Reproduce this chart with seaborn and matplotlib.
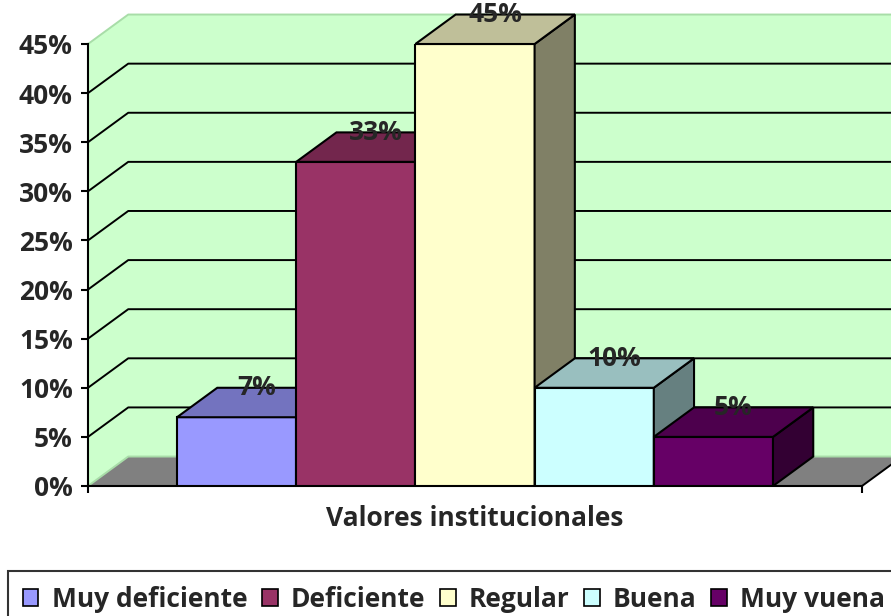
import matplotlib
matplotlib.use("Agg")
import matplotlib.pyplot as plt
import seaborn as sns
import pandas as pd
from matplotlib.patches import Polygon, Patch
from matplotlib.colors import to_rgb

# Data
categories = ["Muy deficiente", "Deficiente", "Regular", "Buena", "Muy vuena"]
values = [7, 33, 45, 10, 5]
group_label = "Valores institucionales"
y_ticks = [0, 5, 10, 15, 20, 25, 30, 35, 40, 45]
y_tick_labels = [f"{v}%" for v in y_ticks]

# Excel-like palette
bar_colors = ["#9999FF", "#993366", "#FFFFCC", "#CCFFFF", "#660066"]
WALL = "#CCFFCC"
FLOOR = "#808080"
WALL_EDGE = "#A8DDA8"

# 3D depth of the fake perspective (x in data units, y in percent)
DX = 0.052
DY = 3.0
X_FAR = 0.62

FONT_SIZE = 19


def shade(color, f):
    r, g, b = to_rgb(color)
    return (r * f, g * f, b * f)


sns.set_theme(style="white")
plt.rcParams["font.family"] = ["Open Sans", "DejaVu Sans"]
plt.rcParams["font.weight"] = "bold"

fig = plt.figure(figsize=(8.91, 6.16), dpi=100)
ax = fig.add_axes([88 / 891, 130 / 616, 774 / 891, 442 / 616])
ax.patch.set_visible(False)

df = pd.DataFrame({
    "grupo": [group_label] * len(categories),
    "categoria": categories,
    "valor": values,
})

sns.barplot(
    data=df, x="grupo", y="valor", hue="categoria",
    hue_order=categories, palette=bar_colors, width=0.77,
    saturation=1, edgecolor="black", linewidth=1.5,
    legend=False, ax=ax,
)

ax.set_xlim(-0.5, 0.5)
ax.set_ylim(0, y_ticks[-1])
x0, x1 = -0.5, 0.5
ytop = y_ticks[-1]

# walls and floor
back = Polygon([(x0 + DX, DY), (X_FAR, DY), (X_FAR, ytop + DY), (x0 + DX, ytop + DY)],
               closed=True, facecolor=WALL, edgecolor="none", zorder=0.5, clip_on=False)
side = Polygon([(x0, 0), (x0 + DX, DY), (x0 + DX, ytop + DY), (x0, ytop)],
               closed=True, facecolor=WALL, edgecolor="none", zorder=0.5, clip_on=False)
floor = Polygon([(x0, 0), (x1, 0), (x1 + DX, DY), (x0 + DX, DY)],
                closed=True, facecolor=FLOOR, edgecolor="none", zorder=0.8, clip_on=False)
for p in (back, side, floor):
    ax.add_patch(p)

for v in y_ticks:
    col = "black" if 0 < v < ytop else WALL_EDGE
    ax.plot([x0, x0 + DX, X_FAR], [v, v + DY, v + DY], color=col, lw=1.4,
            zorder=0.9, clip_on=False, solid_capstyle="butt")
ax.plot([x1, x1 + DX], [0, DY], color="black", lw=1.4, zorder=0.9, clip_on=False)

# top and side faces of each bar, left to right
bars = sorted(ax.patches[:len(categories)], key=lambda b: b.get_x())
for i, (bar, val, col) in enumerate(zip(bars, values, bar_colors)):
    z = 3 + i
    bar.set_zorder(z)
    bl = bar.get_x()
    br = bl + bar.get_width()
    h = bar.get_height()
    top = Polygon([(bl, h), (br, h), (br + DX, h + DY), (bl + DX, h + DY)],
                  closed=True, facecolor=shade(col, 0.75), edgecolor="black",
                  lw=1.5, zorder=z, clip_on=False)
    rside = Polygon([(br, 0), (br + DX, DY), (br + DX, h + DY), (br, h)],
                    closed=True, facecolor=shade(col, 0.5), edgecolor="black",
                    lw=1.5, zorder=z, clip_on=False)
    ax.add_patch(rside)
    ax.add_patch(top)
    ax.text(bl + bar.get_width() / 2 + DX / 2, h + DY, f"{val}%",
            ha="center", va="center", fontsize=FONT_SIZE, fontweight="bold",
            zorder=20, clip_on=False)

# axes styling
sns.despine(ax=ax, top=True, right=True)
for s in ("left", "bottom"):
    ax.spines[s].set_color("black")
    ax.spines[s].set_linewidth(1.5)
    ax.spines[s].set_zorder(2.5)

ax.set_yticks(y_ticks)
ax.set_yticklabels(y_tick_labels, fontsize=FONT_SIZE, fontweight="bold")
ax.tick_params(axis="y", direction="out", length=5, width=1.5, color="black", pad=6, left=True)
ax.set_xticks([0])
ax.set_xticklabels([group_label], fontsize=FONT_SIZE, fontweight="bold")
ax.tick_params(axis="x", length=0, pad=14)
ax.set_xticks([x0, x1], minor=True)
ax.tick_params(axis="x", which="minor", direction="out", length=5, width=1.5,
               color="black", bottom=True)
ax.set_xlabel("")
ax.set_ylabel("")

handles = [Patch(facecolor=c, edgecolor="black", linewidth=1.2) for c in bar_colors]
leg = fig.legend(
    handles, categories, loc="upper left", bbox_to_anchor=(8 / 891, 1 - 571 / 616),
    borderaxespad=0, ncol=5, frameon=True, fancybox=False, edgecolor="black",
    handlelength=0.6, handleheight=0.6, handletextpad=0.5, columnspacing=0.55,
    borderpad=0.55, prop={"size": FONT_SIZE, "weight": "bold"},
)
leg.get_frame().set_linewidth(1.5)

fig.savefig("out.png", dpi=100)
